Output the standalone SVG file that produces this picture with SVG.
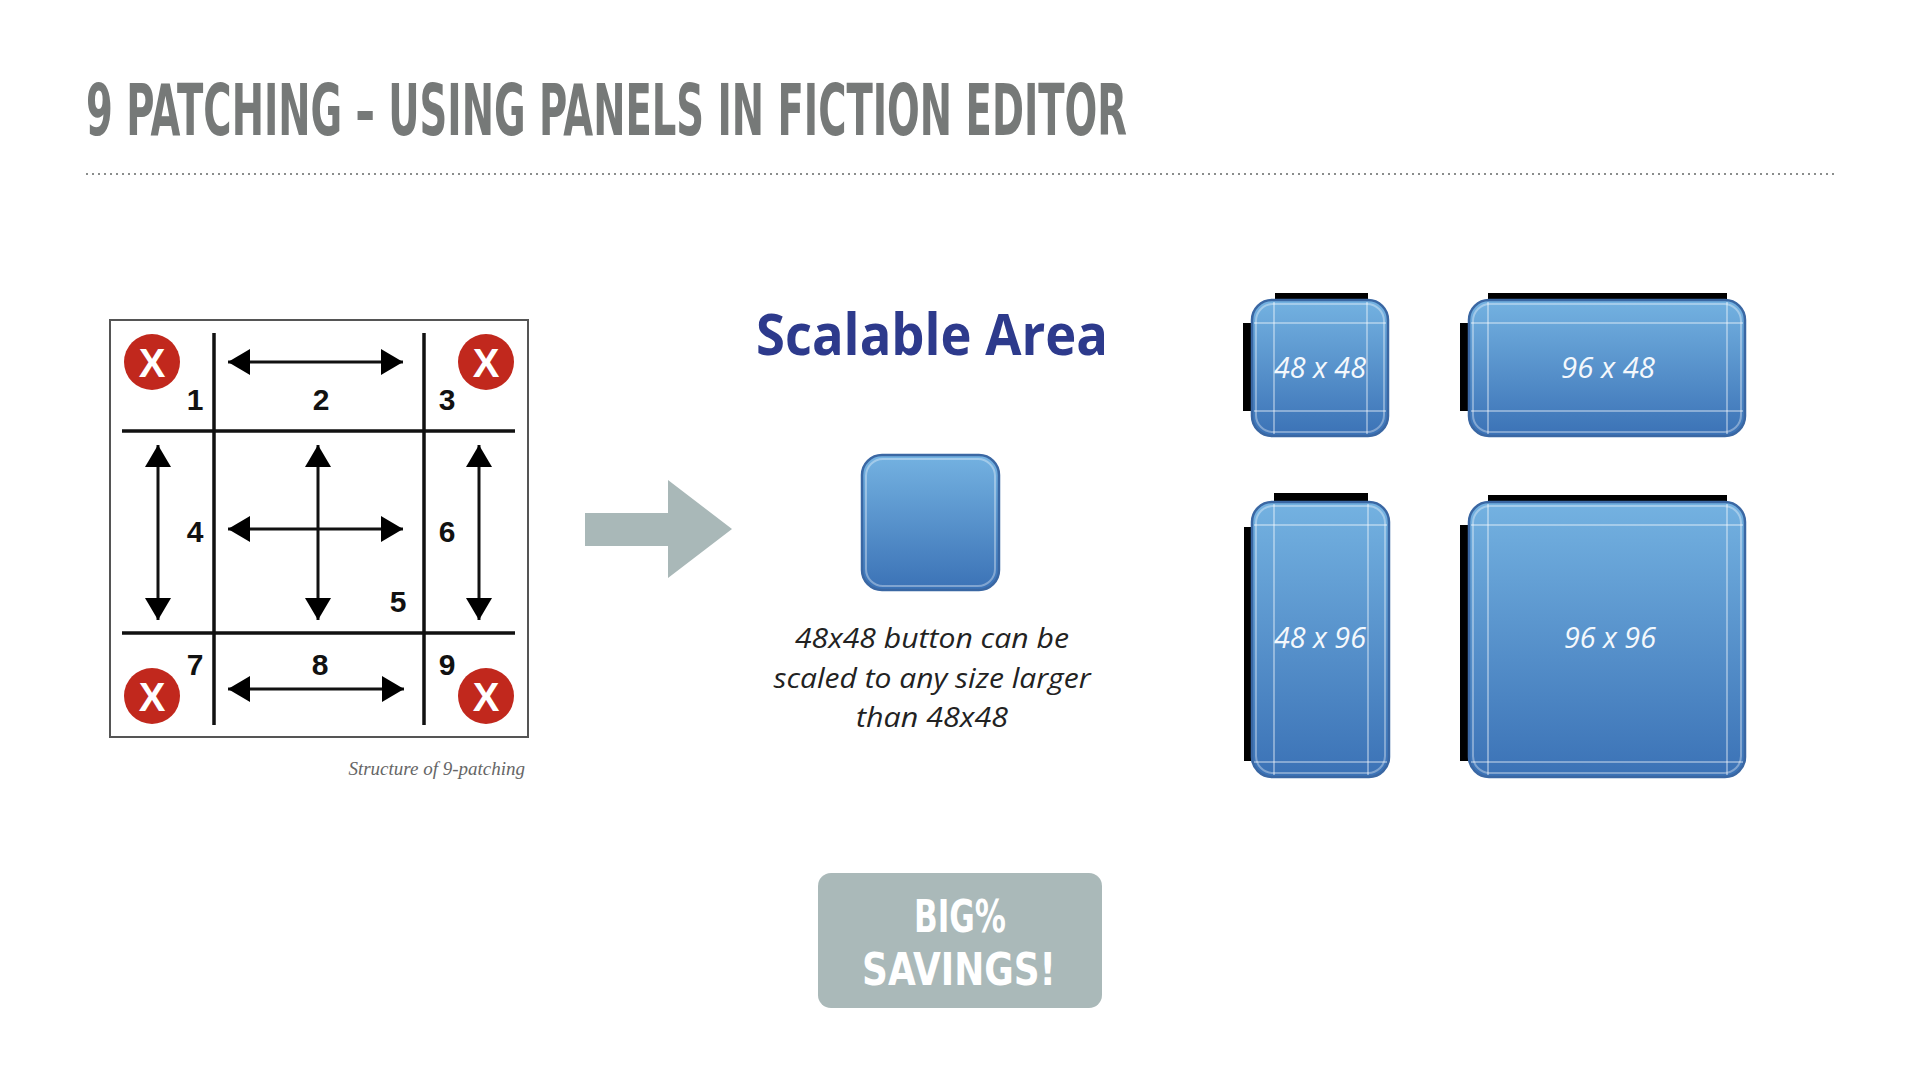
<svg xmlns="http://www.w3.org/2000/svg" width="1920" height="1080" viewBox="0 0 1920 1080">
<defs>
<linearGradient id="blue" x1="0" y1="0" x2="0" y2="1">
<stop offset="0" stop-color="#74b2e1"/>
<stop offset="1" stop-color="#3b72b6"/>
</linearGradient>
<marker id="ah" viewBox="0 0 22 26" markerWidth="22" markerHeight="26" refX="22" refY="13" orient="auto-start-reverse" markerUnits="userSpaceOnUse">
<path d="M0,0 L22,13 L0,26 z" fill="#000"/>
</marker>
<style>
.title{font-family:"DejaVu Sans Condensed","DejaVu Sans",sans-serif;font-weight:bold;fill:#767978;}
.num{font-family:"Liberation Sans",Arial,sans-serif;font-weight:bold;font-size:30px;fill:#111;text-anchor:middle;}
.xmark{font-family:"Liberation Sans",Arial,sans-serif;font-weight:bold;font-size:40px;fill:#fff;text-anchor:middle;}
.grid{stroke:#111;stroke-width:3.5;fill:none;}
.arr{stroke:#111;stroke-width:3;fill:none;marker-start:url(#ah);marker-end:url(#ah);}
.btn{fill:url(#blue);stroke:#3a67a3;stroke-width:2.5;}
.glow{fill:none;stroke:#ffffff;stroke-opacity:0.35;stroke-width:2;}
.guide{stroke:#ffffff;stroke-opacity:0.5;stroke-width:1.5;}
.bar{fill:#000;}
.lbl{font-family:"Open Sans","Noto Sans",sans-serif;font-style:italic;font-size:30px;fill:#f4f8fc;text-anchor:middle;}
.desc{font-family:"Open Sans","Noto Sans",sans-serif;font-style:italic;font-size:28px;fill:#222;text-anchor:middle;}
.sav{font-family:"DejaVu Sans Condensed","DejaVu Sans",sans-serif;font-weight:bold;font-size:45px;fill:#fff;text-anchor:middle;}
</style>
</defs>
<rect width="1920" height="1080" fill="#fff"/>

<g id="title">
<text class="title" x="86" y="135" font-size="71" textLength="1041" lengthAdjust="spacingAndGlyphs">9 PATCHING – USING PANELS IN FICTION EDITOR</text>
<line x1="86" y1="174" x2="1837" y2="174" stroke="#8a8d8c" stroke-width="2" stroke-dasharray="2 4"/>
</g>

<g id="ninepatch">
<rect x="110" y="320" width="418" height="417" fill="#fff" stroke="#555" stroke-width="2"/>
<line class="grid" x1="214" y1="333" x2="214" y2="725"/>
<line class="grid" x1="424" y1="333" x2="424" y2="725"/>
<line class="grid" x1="122" y1="431" x2="515" y2="431"/>
<line class="grid" x1="122" y1="633" x2="515" y2="633"/>
<line class="arr" x1="228" y1="362" x2="403" y2="362"/>
<line class="arr" x1="158" y1="445" x2="158" y2="620"/>
<line class="arr" x1="318" y1="445" x2="318" y2="620"/>
<line class="arr" x1="228" y1="529" x2="403" y2="529"/>
<line class="arr" x1="479" y1="445" x2="479" y2="620"/>
<line class="arr" x1="228" y1="689" x2="404" y2="689"/>
<circle cx="152" cy="362" r="28" fill="#c1281d"/>
<text class="xmark" x="152" y="377">X</text>
<circle cx="486" cy="362" r="28" fill="#c1281d"/>
<text class="xmark" x="486" y="377">X</text>
<circle cx="152" cy="696" r="28" fill="#c1281d"/>
<text class="xmark" x="152" y="711">X</text>
<circle cx="486" cy="696" r="28" fill="#c1281d"/>
<text class="xmark" x="486" y="711">X</text>
<text class="num" x="195" y="410">1</text>
<text class="num" x="321" y="410">2</text>
<text class="num" x="447" y="410">3</text>
<text class="num" x="195" y="542">4</text>
<text class="num" x="398" y="612">5</text>
<text class="num" x="447" y="542">6</text>
<text class="num" x="195" y="675">7</text>
<text class="num" x="320" y="675">8</text>
<text class="num" x="447" y="675">9</text>
<text x="525" y="775" font-family="Liberation Serif,serif" font-style="italic" font-size="19" fill="#666" text-anchor="end">Structure of 9-patching</text>
</g>

<g id="connectors">
<polygon points="585,513 668,513 668,480 732,529 668,578 668,546 585,546" fill="#a9b8b8"/>
</g>

<g id="scalable">
<text x="756" y="355" font-family="Open Sans,Noto Sans,sans-serif" font-weight="bold" font-size="57" fill="#2d3a8c" textLength="352" lengthAdjust="spacingAndGlyphs">Scalable Area</text>
<rect class="btn" x="862" y="455" width="137" height="135" rx="20"/>
<rect class="glow" x="866" y="459" width="129" height="127" rx="17"/>
<text class="desc" x="932" y="648" textLength="274" lengthAdjust="spacingAndGlyphs">48x48 button can be</text>
<text class="desc" x="932" y="688" textLength="317" lengthAdjust="spacingAndGlyphs">scaled to any size larger</text>
<text class="desc" x="932" y="727" textLength="152" lengthAdjust="spacingAndGlyphs">than 48x48</text>
</g>

<g id="btn48x48">
<rect class="bar" x="1275" y="293" width="93" height="8"/>
<rect class="bar" x="1243" y="323" width="9" height="88"/>
<rect class="btn" x="1252" y="300" width="136" height="136" rx="20"/>
<rect class="glow" x="1256" y="304" width="128" height="128" rx="17"/>
<line class="guide" x1="1274" y1="302" x2="1274" y2="434"/>
<line class="guide" x1="1367" y1="302" x2="1367" y2="434"/>
<line class="guide" x1="1254" y1="323" x2="1386" y2="323"/>
<line class="guide" x1="1254" y1="411" x2="1386" y2="411"/>
<text class="lbl" x="1320" y="378" textLength="92" lengthAdjust="spacingAndGlyphs">48 x 48</text>
</g>

<g id="btn96x48">
<rect class="bar" x="1488" y="293" width="239" height="8"/>
<rect class="bar" x="1460" y="323" width="9" height="88"/>
<rect class="btn" x="1469" y="300" width="276" height="136" rx="20"/>
<rect class="glow" x="1473" y="304" width="268" height="128" rx="17"/>
<line class="guide" x1="1488" y1="302" x2="1488" y2="434"/>
<line class="guide" x1="1727" y1="302" x2="1727" y2="434"/>
<line class="guide" x1="1471" y1="323" x2="1743" y2="323"/>
<line class="guide" x1="1471" y1="411" x2="1743" y2="411"/>
<text class="lbl" x="1608" y="378" textLength="94" lengthAdjust="spacingAndGlyphs">96 x 48</text>
</g>

<g id="btn48x96">
<rect class="bar" x="1274" y="493" width="94" height="9"/>
<rect class="bar" x="1244" y="527" width="8" height="234"/>
<rect class="btn" x="1252" y="502" width="137" height="275" rx="20"/>
<rect class="glow" x="1256" y="506" width="129" height="267" rx="17"/>
<line class="guide" x1="1274" y1="504" x2="1274" y2="775"/>
<line class="guide" x1="1368" y1="504" x2="1368" y2="775"/>
<line class="guide" x1="1254" y1="525" x2="1387" y2="525"/>
<line class="guide" x1="1254" y1="762" x2="1387" y2="762"/>
<text class="lbl" x="1320" y="648" textLength="92" lengthAdjust="spacingAndGlyphs">48 x 96</text>
</g>

<g id="btn96x96">
<rect class="bar" x="1488" y="495" width="239" height="8"/>
<rect class="bar" x="1460" y="525" width="9" height="236"/>
<rect class="btn" x="1469" y="502" width="276" height="275" rx="20"/>
<rect class="glow" x="1473" y="506" width="268" height="267" rx="17"/>
<line class="guide" x1="1488" y1="504" x2="1488" y2="775"/>
<line class="guide" x1="1727" y1="504" x2="1727" y2="775"/>
<line class="guide" x1="1471" y1="525" x2="1743" y2="525"/>
<line class="guide" x1="1471" y1="762" x2="1743" y2="762"/>
<text class="lbl" x="1610" y="648" textLength="92" lengthAdjust="spacingAndGlyphs">96 x 96</text>
</g>

<g id="savings">
<rect x="818" y="873" width="284" height="135" rx="13" fill="#aab9b9"/>
<text class="sav" x="960" y="932" textLength="92" lengthAdjust="spacingAndGlyphs">BIG%</text>
<text class="sav" x="959" y="985" textLength="194" lengthAdjust="spacingAndGlyphs">SAVINGS!</text>
</g>
</svg>
